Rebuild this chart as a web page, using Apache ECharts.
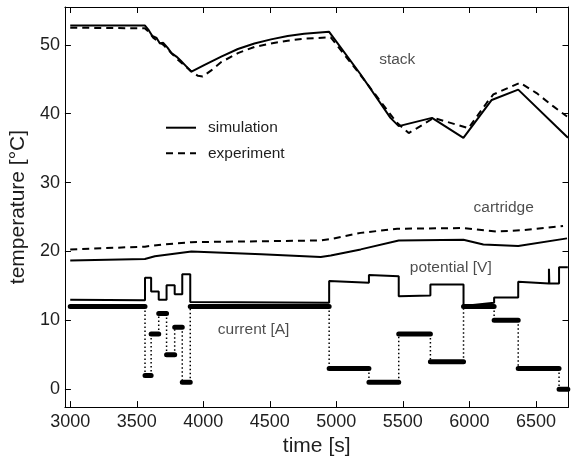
<!DOCTYPE html>
<html>
<head>
<meta charset="utf-8">
<script src="https://cdn.jsdelivr.net/npm/echarts@6/dist/echarts.min.js"></script>
<style>html,body{margin:0;padding:0;background:#fff}#c{width:572px;height:462px}</style>
</head>
<body>
<div id="c"></div>
<script>
// ---- data (time [s], value) ----
var xTicks = [3000, 3500, 4000, 4500, 5000, 5500, 6000, 6500];
var yTicks = [0, 10, 20, 30, 40, 50];

var stackSim = [[3000,52.8],[3562,52.8],[3591,52.1],[3617,51.3],[3649,51.0],[3674,50.2],[3699,50.3],[3731,49.6],[3761,48.8],[3798,48.3],[3831,47.7],[3861,47.1],[3911,46.1],[4010,47.1],[4135,48.3],[4260,49.4],[4384,50.2],[4509,50.8],[4634,51.3],[4758,51.6],[4946,51.9],[5183,45.7],[5407,39.4],[5469,38.2],[5719,39.4],[5955,36.5],[6168,42.0],[6367,43.5],[6741,36.5]];
var stackExp = [[3000,52.5],[3560,52.4],[3595,51.8],[3625,51.0],[3700,50.0],[3800,48.0],[3900,46.3],[3960,45.5],[3995,45.4],[4060,46.3],[4135,47.5],[4260,48.8],[4384,49.7],[4509,50.2],[4634,50.6],[4758,50.9],[4958,51.1],[5190,45.4],[5332,41.8],[5450,38.8],[5544,37.2],[5607,37.9],[5732,39.4],[5993,37.9],[6131,41.6],[6180,42.8],[6380,44.5],[6505,43.0],[6629,41.1],[6734,39.6]];
var cartSim = [[3000,18.7],[3561,18.9],[3636,19.3],[3911,20.0],[4436,19.6],[4883,19.2],[4958,19.4],[5183,20.3],[5469,21.6],[5955,21.7],[6105,21.0],[6367,20.8],[6734,21.9]];
var cartExp = [[3000,20.3],[3561,20.7],[3686,21.0],[3911,21.35],[4883,21.6],[4958,21.8],[5183,22.7],[5457,23.3],[5956,23.4],[6206,22.9],[6405,23.1],[6704,23.7]];
var potential = [[3000,13.0],[3562,12.9],[3562,16.2],[3608,16.2],[3608,14.2],[3665,14.2],[3665,13.0],[3724,13.0],[3724,15.1],[3785,15.1],[3785,13.8],[3842,13.8],[3842,16.7],[3902,16.7],[3902,12.65],[4946,12.57],[4946,15.7],[5245,15.46],[5245,16.57],[5469,16.4],[5469,13.5],[5707,13.6],[5707,15.2],[5956,15.2],[5956,12.07],[6186,12.57],[6186,13.3],[6367,13.3],[6367,15.6],[6598,15.36],[6598,17.5],[6601,17.5],[6601,15.36],[6674,15.36],[6674,17.7],[6740,17.7]];
// current steps: [start, end, amps]
var currentSteps = [[3000,3562,12],[3562,3608,2],[3608,3665,8],[3665,3724,11],[3724,3785,5],[3785,3842,9],[3842,3902,1],[3902,4946,12],[4946,5245,3],[5245,5469,1],[5469,5707,8],[5707,5956,4],[5956,6186,12],[6186,6367,10],[6367,6674,3],[6674,6740,0]];
var annotations = [["stack",5458,47.9],["cartridge",6258,26.4],["potential [V]",5860,17.6],["current [A]",4378,8.66]];

// ---- build ----
var barData = [], connData = [];
currentSteps.forEach(function(s, i){
  barData.push([s[0], s[2]], [s[1], s[2]], [s[1], '-']);
  if (i > 0) {
    var prev = currentSteps[i-1][2];
    connData.push([s[0], prev], [s[0], s[2]], [s[0], '-']);
  }
});

var FONT = '"Liberation Sans", Arial, Helvetica, sans-serif';
var TXT = '#1e1e1e';
var XMIN = 2960, XMAX = 6745, YMIN = -2.6, YMAX = 55.5;

function axisCommon(){
  return {
    axisLine: {show: true, onZero: false, lineStyle: {color: '#000', width: 1}},
    splitLine: {show: false}
  };
}
function plain(v){ return String(v); }

var chart = echarts.init(document.getElementById('c'), null, {renderer: 'canvas'});
var lineBase = {type: 'line', symbol: 'none', showSymbol: false, animation: false, silent: true};

var option = {
  animation: false,
  backgroundColor: '#fff',
  grid: {left: 63, right: 3.5, top: 7, bottom: 54, containLabel: false},
  legend: {
    data: ['simulation', 'experiment'],
    orient: 'vertical', left: 165, top: 119.7, padding: 0,
    itemWidth: 30, itemHeight: 16, itemGap: 9.6,
    itemStyle: {opacity: 0},
    textStyle: {fontFamily: FONT, fontSize: 15.5, color: TXT, padding: [0, 0, 0, 7]},
    selectedMode: false
  },
  xAxis: [
    Object.assign(axisCommon(), {
      type: 'value', min: XMIN, max: XMAX, position: 'bottom',
      name: 'time [s]', nameLocation: 'middle', nameGap: 26,
      nameTextStyle: {fontFamily: FONT, fontSize: 21, color: TXT},
      axisTick: {show: true, inside: true, length: 6, customValues: xTicks, lineStyle: {color: '#000'}},
      axisLabel: {show: true, customValues: xTicks, formatter: plain, margin: 6, fontFamily: FONT, fontSize: 18, color: TXT}
    }),
    Object.assign(axisCommon(), {
      type: 'value', min: XMIN, max: XMAX, position: 'top',
      axisTick: {show: true, inside: true, length: 6, customValues: xTicks, lineStyle: {color: '#000'}},
      axisLabel: {show: false}
    })
  ],
  yAxis: [
    Object.assign(axisCommon(), {
      type: 'value', min: YMIN, max: YMAX, position: 'left',
      name: 'temperature [°C]', nameLocation: 'middle', nameGap: 28, nameRotate: 90,
      nameTextStyle: {fontFamily: FONT, fontSize: 21, color: TXT},
      axisTick: {show: true, inside: true, length: 6, customValues: yTicks, lineStyle: {color: '#000'}},
      axisLabel: {show: true, customValues: yTicks, formatter: plain, margin: 5, fontFamily: FONT, fontSize: 18, color: TXT}
    }),
    Object.assign(axisCommon(), {
      type: 'value', min: YMIN, max: YMAX, position: 'right',
      axisTick: {show: true, inside: true, length: 6, customValues: yTicks, lineStyle: {color: '#000'}},
      axisLabel: {show: false}
    })
  ],
  series: [
    Object.assign({}, lineBase, {name: 'simulation', data: stackSim, lineStyle: {color: '#000', width: 2}, itemStyle: {color: '#000'}}),
    Object.assign({}, lineBase, {name: 'experiment', data: stackExp, lineStyle: {color: '#000', width: 2, type: [7, 5]}, itemStyle: {color: '#000'}}),
    Object.assign({}, lineBase, {name: 'cartridge simulation', data: cartSim, lineStyle: {color: '#000', width: 2}}),
    Object.assign({}, lineBase, {name: 'cartridge experiment', data: cartExp, lineStyle: {color: '#000', width: 2, type: [7, 5]}}),
    Object.assign({}, lineBase, {name: 'potential', data: potential, lineStyle: {color: '#000', width: 2}}),
    Object.assign({}, lineBase, {name: 'current steps', data: connData, connectNulls: false, lineStyle: {color: '#000', width: 1.5, type: [1.5, 2.5]}}),
    Object.assign({}, lineBase, {name: 'current', data: barData, connectNulls: false, lineStyle: {color: '#000', width: 5, cap: 'round'}}),
    {
      type: 'scatter', name: 'labels', symbolSize: 0, silent: true, animation: false,
      data: annotations.map(function(a){ return {name: a[0], value: [a[1], a[2]]}; }),
      label: {show: true, position: 'inside', formatter: '{b}', fontFamily: FONT, fontSize: 15.5, color: TXT}
    }
  ]
};
chart.setOption(option);
</script>
</body>
</html>
